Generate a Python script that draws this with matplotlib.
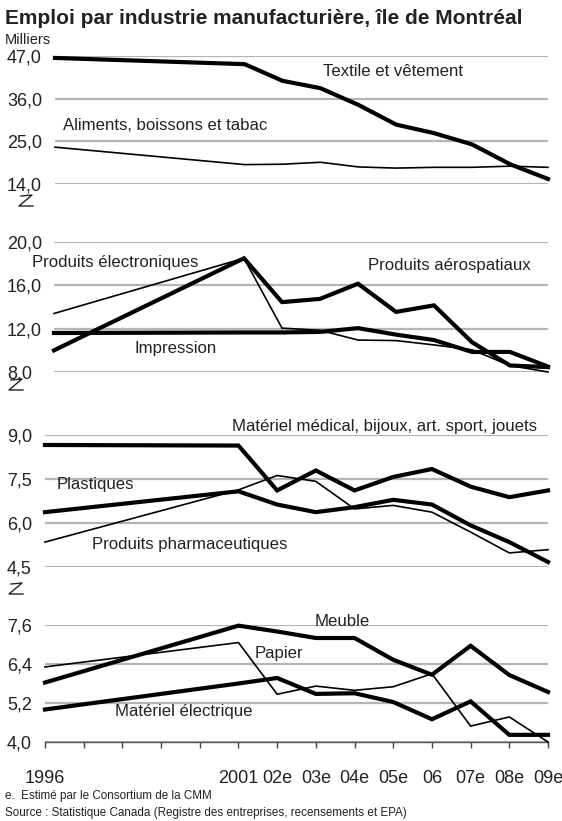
import matplotlib
matplotlib.use("Agg")
import matplotlib.pyplot as plt
from matplotlib.lines import Line2D

plt.rcParams['font.family'] = ['Liberation Sans', 'DejaVu Sans']

W, H = 562, 821

years = [1996, 2001, 2002, 2003, 2004, 2005, 2006, 2007, 2008, 2009]
tick_years = list(range(1996, 2010))
tick_labels = ['1996', '', '', '', '', '2001', '02e', '03e', '04e', '05e', '06', '07e', '08e', '09e']

# panneau 1
textile = [46.5, 44.9, 40.6, 38.7, 34.4, 29.3, 27.1, 24.2, 19.1, 15.3]
aliments = [23.5, 19.0, 19.1, 19.6, 18.4, 18.1, 18.3, 18.3, 18.6, 18.3]
# panneau 2
electroniques = [13.4, 18.5, 12.05, 11.85, 10.95, 10.9, 10.5, 10.05, 8.6, 8.0]
aerospatiaux = [10.0, 18.5, 14.45, 14.75, 16.15, 13.55, 14.15, 10.75, 8.6, 8.45]
impression = [11.6, 11.65, 11.65, 11.7, 12.05, 11.45, 10.95, 9.85, 9.85, 8.5]
# panneau 3
medical = [8.66, 8.64, 7.11, 7.79, 7.11, 7.57, 7.84, 7.24, 6.88, 7.11]
plastiques = [6.37, 7.08, 6.63, 6.37, 6.54, 6.79, 6.63, 5.92, 5.35, 4.67]
pharma = [5.35, 7.13, 7.62, 7.42, 6.48, 6.6, 6.37, 5.69, 4.98, 5.09]
# panneau 4
meuble = [5.83, 7.58, 7.4, 7.2, 7.2, 6.53, 6.07, 6.96, 6.06, 5.54]
papier = [6.31, 7.06, 5.47, 5.72, 5.59, 5.7, 6.1, 4.49, 4.77, 4.0]
electrique = [5.0, 5.8, 5.97, 5.48, 5.5, 5.23, 4.7, 5.25, 4.22, 4.22]

panels = [
    {'box': (55, 56, 548, 184), 'ticks': [14.0, 25.0, 36.0, 47.0],
     'series': [(textile, 'thick'), (aliments, 'thin')],
     'labels': [('Textile et vêtement', 323, 72), ('Aliments, boissons et tabac', 63, 126)]},
    {'box': (54, 242, 548, 372), 'ticks': [8.0, 12.0, 16.0, 20.0],
     'series': [(electroniques, 'thin'), (aerospatiaux, 'thick'), (impression, 'thick')],
     'labels': [('Produits électroniques', 32, 263), ('Produits aérospatiaux', 368, 265),
                ('Impression', 134, 348)]},
    {'box': (45, 435, 548, 567), 'ticks': [4.5, 6.0, 7.5, 9.0],
     'series': [(medical, 'thick'), (plastiques, 'thick'), (pharma, 'thin')],
     'labels': [('Matériel médical, bijoux, art. sport, jouets', 232, 427),
                ('Plastiques', 57, 484), ('Produits pharmaceutiques', 92, 544)]},
    {'box': (45, 625, 548, 742), 'ticks': [4.0, 5.2, 6.4, 7.6],
     'series': [(meuble, 'thick'), (papier, 'thin'), (electrique, 'thick')],
     'labels': [('Meuble', 315, 621), ('Papier', 255, 653), ('Matériel électrique', 115, 711)]},
]

fig = plt.figure(figsize=(W / 100, H / 100), dpi=100)
txt = '#222222'

for i, p in enumerate(panels):
    x0, y0, x1, y1 = p['box']
    ax = fig.add_axes([x0 / W, 1 - y1 / H, (x1 - x0) / W, (y1 - y0) / H])
    for vals, kind in p['series']:
        ax.plot(years, vals, color='black', lw=3.0 if kind == 'thick' else 1.2,
                solid_joinstyle='miter', clip_on=False, zorder=3)
    ax.set_xlim(1996, 2009)
    ax.set_ylim(p['ticks'][0], p['ticks'][-1])
    ax.set_yticks(p['ticks'])
    ax.set_yticklabels([f'{t:.1f}'.replace('.', ',') for t in p['ticks']],
                       fontsize=13, color=txt)
    for lab in ax.get_yticklabels():
        lab.set_horizontalalignment('left')
    ax.tick_params(axis='y', length=0, pad=(x0 - 7) * 0.72)
    ax.yaxis.grid(True, color='#b5b5b5', lw=1.6)
    ax.set_axisbelow(True)
    for s in ax.spines.values():
        s.set_visible(False)
    if i < 3:
        ax.set_xticks([])
    else:
        ax.set_xticks(tick_years)
        ax.set_xticklabels(tick_labels, fontsize=13, color=txt)
        ax.tick_params(axis='x', length=4, width=1, color='#444444', pad=16, direction='out')
        ax.spines['bottom'].set_visible(True)
        ax.spines['bottom'].set_color('#555555')
        ax.spines['bottom'].set_linewidth(1.0)
    for text, tx, ty in p['labels']:
        fig.text(tx / W, 1 - ty / H, text, fontsize=12.1, color=txt, va='center', ha='left')

# marques de coupure de l'axe
for bx, by in [(19, 201), (9, 385), (9, 589)]:
    xs = [bx + 2, bx + 13, bx, bx + 14]
    ys = [by - 5, by - 6, by + 5, by + 5]
    fig.add_artist(Line2D([x / W for x in xs], [1 - y / H for y in ys],
                          color=txt, lw=1.0, transform=fig.transFigure))

fig.text(5 / W, 1 - 18 / H, 'Emploi par industrie manufacturière, île de Montréal',
         fontsize=15, weight='bold', color=txt, va='center', ha='left')
fig.text(5 / W, 1 - 40 / H, 'Milliers', fontsize=10.5, color=txt, va='center', ha='left')
fig.text(5 / W, 1 - 796 / H, 'e.  Estimé par le Consortium de la CMM', fontsize=8.4,
         color=txt, va='center', ha='left')
fig.text(5 / W, 1 - 813 / H, 'Source : Statistique Canada (Registre des entreprises, recensements et EPA)',
         fontsize=8.4, color=txt, va='center', ha='left')

fig.savefig('out.png', dpi=100)
